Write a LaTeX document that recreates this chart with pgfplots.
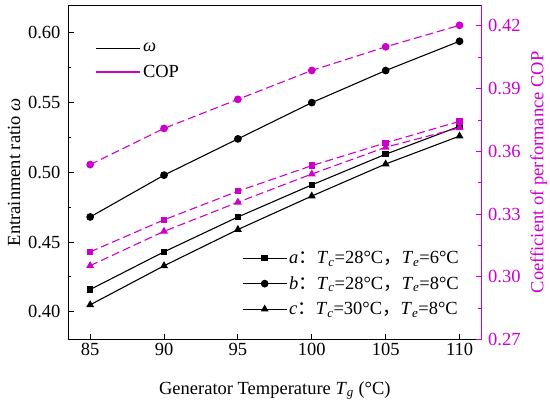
\documentclass[border=0pt]{standalone}
\usepackage{pgfplots}
\pgfplotsset{compat=1.18}
\usepackage{fontspec}
\setmainfont{Liberation Serif}
\newfontfamily\cjk{Noto Sans CJK SC}
\definecolor{mag}{RGB}{204,0,204}
\newcommand{\fs}{\fontsize{18.5bp}{22bp}\selectfont}
\begin{document}
\begin{tikzpicture}
\pgfplotsset{
  every axis/.append style={
    scale only axis, width=413.7bp, height=334.7bp,
    at={(0,0)}, anchor=south west,
    xmin=83.5, xmax=111.5,
    /pgf/number format/assume math mode=true,
    tick align=inside,
    major tick length=6bp, minor tick length=3.5bp,
    tick label style={font=\fs},
    label style={font=\fs},
    axis line style={line width=0.9bp},
    every tick/.style={line width=0.9bp},
    minor tick style={line width=0.9bp},
  },
  mylegimg/.style={legend image code/.code={\draw[mark repeat=2,mark phase=2] plot coordinates {(0bp,0bp) (22bp,0bp) (44bp,0bp)};}},
}
\begin{axis}[
  ymin=0.38, ymax=0.62,
  ytick={0.40,0.45,0.50,0.55,0.60},
  minor y tick num=1,
  xtick={85,90,95,100,105,110},
  ytick pos=left, xtick pos=bottom,
  yticklabel style={xshift=-4bp, /pgf/number format/fixed, /pgf/number format/fixed zerofill, /pgf/number format/precision=2},
  xlabel={Generator Temperature \textit{T}\textsubscript{\textit{g}} (°C)},
  xlabel shift=19bp,
  ylabel={Entrainment ratio \textit{ω}},
  ylabel shift=1bp,
  mylegimg,
  legend style={draw=none, fill=none, font=\fs, at={(rel axis cs:0.95,0.064)}, anchor=south east, row sep=7.5bp, inner sep=0bp},
  legend cell align=left,
]
\addplot[black, line width=1.1bp, mark=square*, mark size=2.7bp] coordinates {(85,0.416)(90,0.443)(95,0.468)(100,0.491)(105,0.513)(110,0.533)};
\addlegendentry{\textit{a}{\cjk ：}\textit{T}\textsubscript{\textit{c}}=28°C{\cjk ，}\textit{T}\textsubscript{\textit{e}}=6°C}
\addplot[black, line width=1.1bp, mark=*, mark size=3.3bp] coordinates {(85,0.468)(90,0.498)(95,0.524)(100,0.550)(105,0.573)(110,0.594)};
\addlegendentry{\textit{b}{\cjk ：}\textit{T}\textsubscript{\textit{c}}=28°C{\cjk ，}\textit{T}\textsubscript{\textit{e}}=8°C}
\addplot[black, line width=1.1bp, mark=triangle*, mark size=3.5bp] coordinates {(85,0.405)(90,0.433)(95,0.459)(100,0.483)(105,0.506)(110,0.526)};
\addlegendentry{\textit{c}{\cjk ：}\textit{T}\textsubscript{\textit{c}}=30°C{\cjk ，}\textit{T}\textsubscript{\textit{e}}=8°C}
\end{axis}
\begin{axis}[
  axis y line*=right, axis x line=none,
  ymin=0.27, ymax=0.43,
  ytick={0.27,0.30,0.33,0.36,0.39,0.42},
  minor y tick num=1,
  yticklabel style={mag, xshift=3bp, /pgf/number format/fixed, /pgf/number format/fixed zerofill, /pgf/number format/precision=2},
  y axis line style={mag},
  ytick style={mag}, minor y tick style={mag},
  ylabel={Coefficient of performance COP},
  ylabel style={mag},
  ylabel shift=3bp,
  mylegimg,
  legend style={draw=none, fill=none, font=\fs, at={(rel axis cs:0.067,0.893)}, anchor=north west, row sep=8bp, inner sep=0bp},
  legend cell align=left,
]
\addlegendimage{black, line width=1.1bp}
\addlegendentry{\textit{ω}}
\addlegendimage{mag, line width=1.1bp}
\addlegendentry{COP}
\addplot[mag, line width=1.1bp, dash pattern=on 8bp off 4bp, mark=square*, mark size=2.7bp, mark options={solid}, forget plot] coordinates {(85,0.312)(90,0.3273)(95,0.341)(100,0.3532)(105,0.3641)(110,0.3744)};
\addplot[mag, line width=1.1bp, dash pattern=on 8bp off 4bp, mark=*, mark size=3.3bp, mark options={solid}, forget plot] coordinates {(85,0.3537)(90,0.371)(95,0.3849)(100,0.3987)(105,0.410)(110,0.4203)};
\addplot[mag, line width=1.1bp, dash pattern=on 8bp off 4bp, mark=triangle*, mark size=3.5bp, mark options={solid}, forget plot] coordinates {(85,0.3054)(90,0.3218)(95,0.3357)(100,0.3492)(105,0.362)(110,0.3713)};
\end{axis}
\pgfresetboundingbox
\path (-68bp,-66.3bp) rectangle (482bp,339.7bp);
\end{tikzpicture}
\end{document}
